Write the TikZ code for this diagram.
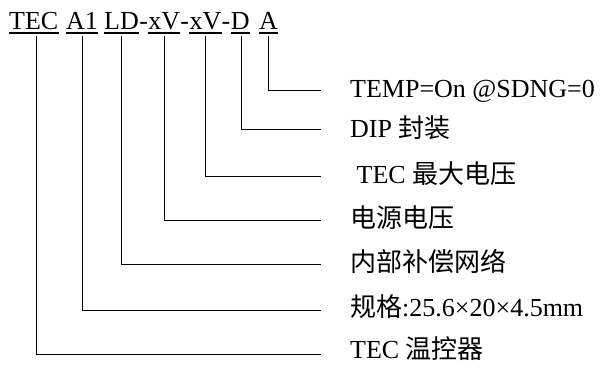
\documentclass[tikz,border=0pt]{standalone}
\usepackage{fontspec}
\setmainfont{Liberation Serif}
\newfontfamily\cjk{Noto Sans CJK SC}
\begin{document}
\begin{tikzpicture}[x=1pt,y=1pt,
  part/.style={inner sep=0pt, anchor=base west, font=\fontsize{26}{30}\selectfont},
  lbl/.style={inner sep=0pt, anchor=base west, font=\fontsize{26}{30}\selectfont},
  lead/.style={line width=1pt, line cap=rect},
  uline/.style={line width=1.3pt}]
\useasboundingbox (0,0) rectangle (603,366);
% top code line
\node[part] (tec) at (9,336) {TEC};
\node[part] (a1) at (66,336) {A1};
\node[part] (ld) at (104,336) {LD};
\node[part] (h1) at (ld.base east) {-};
\node[part] (xv1) at (h1.base east) {xV};
\node[part] (h2) at (xv1.base east) {-};
\node[part] (xv2) at (h2.base east) {xV};
\node[part] (h3) at (xv2.base east) {-};
\node[part] (d) at (h3.base east) {D};
\node[part] (a) at (259,336) {A};
\foreach \n in {tec,a1,ld,xv1,xv2,d,a}
  \draw[uline] ([yshift=-3pt]\n.base west) -- ([yshift=-3pt]\n.base east);
% labels
\node[lbl] (l1) at (350,268) {TEMP=On @SDNG=0};
\node[lbl] (l2) at (350,228) {DIP {\cjk 封装}};
\node[lbl] (l3) at (350,182) {\ TEC {\cjk 最大电压}};
\node[lbl] (l4) at (350,138) {{\cjk 电源电压}};
\node[lbl] (l5) at (350,94) {{\cjk 内部补偿网络}};
\node[lbl] (l6) at (350,49) {{\cjk 规格}:25.6×20×4.5mm};
\node[lbl] (l7) at (350,7) {TEC {\cjk 温控器}};
% connectors
\draw[lead] ([yshift=-7pt]a.base) |- ([xshift=-30pt,yshift=7pt]l1.base west);
\draw[lead] ([xshift=1pt,yshift=-7pt]d.base) |- ([xshift=-30pt,yshift=8pt]l2.base west);
\draw[lead] ([yshift=-7pt]xv2.base) |- ([xshift=-30pt,yshift=7pt]l3.base west);
\draw[lead] ([yshift=-7pt]xv1.base) |- ([xshift=-30pt,yshift=7pt]l4.base west);
\draw[lead] ([yshift=-7pt]ld.base) |- ([xshift=-30pt,yshift=7pt]l5.base west);
\draw[lead] ([yshift=-7pt]a1.base) |- ([xshift=-30pt,yshift=6pt]l6.base west);
\draw[lead] ([xshift=3pt,yshift=-7pt]tec.base) |- ([xshift=-30pt,yshift=4pt]l7.base west);
\end{tikzpicture}
\end{document}
